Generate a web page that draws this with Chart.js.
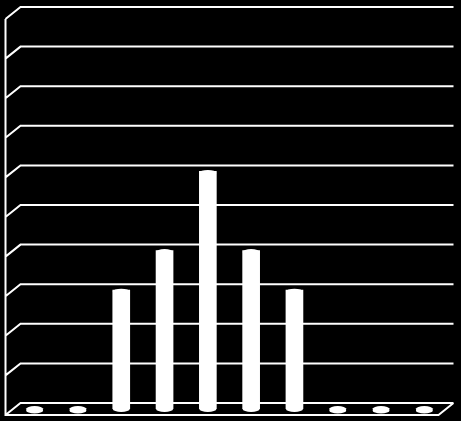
<!DOCTYPE html>
<html>
<head>
<meta charset="utf-8">
<script src="https://cdn.jsdelivr.net/npm/chart.js@4/dist/chart.umd.min.js"></script>
<style>
    html, body { margin: 0; padding: 0; background: #000; }
    #wrap { width: 461px; height: 421px; }
</style>
</head>
<body>
<div id="wrap"><canvas id="chart"></canvas></div>
<script>
// values
const categories = ['1', '2', '3', '4', '5', '6', '7', '8', '9', '10'];
const counts = [0, 0, 3, 4, 6, 4, 3, 0, 0, 0];
const gridTicks = [0, 1, 2, 3, 4, 5, 6, 7, 8, 9, 10];

// depth of the fake 3d box, bars sit half way in
const depthX = 7.5;
const depthY = 6;

const blackBg = {
    id: 'blackBg',
    beforeDraw(chart) {
        const ctx = chart.ctx;
        ctx.save();
        ctx.fillStyle = '#000';
        ctx.fillRect(0, 0, chart.width, chart.height);
        ctx.restore();
    }
};

const box3d = {
    id: 'box3d',
    beforeDatasetsDraw(chart) {
        const ctx = chart.ctx;
        const area = chart.chartArea;
        const y = chart.scales.y;
        const base = y.getPixelForValue(0);
        const top = y.getPixelForValue(10);
        ctx.save();
        ctx.strokeStyle = '#fff';
        ctx.lineWidth = 2;
        ctx.beginPath();
        gridTicks.forEach(function (v) {
            const yb = y.getPixelForValue(v) - depthY;
            ctx.moveTo(area.left - depthX, yb + 2 * depthY);
            ctx.lineTo(area.left + depthX, yb);
            ctx.lineTo(area.right + depthX, yb);
        });
        // left wall
        ctx.moveTo(area.left - depthX, top + depthY);
        ctx.lineTo(area.left - depthX, base + depthY);
        // floor front edge
        ctx.lineTo(area.right - depthX, base + depthY);
        ctx.lineTo(area.right + depthX, base - depthY);
        ctx.stroke();
        ctx.restore();
    }
};

const cylinderCaps = {
    id: 'cylinderCaps',
    afterDatasetsDraw(chart) {
        const ctx = chart.ctx;
        const meta = chart.getDatasetMeta(0);
        ctx.save();
        ctx.fillStyle = '#fff';
        meta.data.forEach(function (bar) {
            const rx = bar.width / 2;
            ctx.beginPath();
            ctx.ellipse(bar.x, bar.base, rx, 3, 0, 0, Math.PI * 2);
            ctx.fill();
            ctx.beginPath();
            ctx.ellipse(bar.x, bar.y + 1.5, rx, 3, 0, 0, Math.PI * 2);
            ctx.fill();
        });
        ctx.restore();
    }
};

new Chart(document.getElementById('chart'), {
    type: 'bar',
    data: {
        labels: categories,
        datasets: [{
            data: counts,
            backgroundColor: '#fff',
            borderWidth: 0,
            barThickness: 17
        }]
    },
    options: {
        responsive: true,
        maintainAspectRatio: false,
        animation: false,
        layout: {
            padding: { left: 13, right: 15, top: 13, bottom: 12 }
        },
        plugins: {
            legend: { display: false },
            tooltip: { enabled: false }
        },
        scales: {
            x: {
                display: false,
                offset: true
            },
            y: {
                display: false,
                min: 0,
                max: 10
            }
        }
    },
    plugins: [blackBg, box3d, cylinderCaps]
});
</script>
</body>
</html>
